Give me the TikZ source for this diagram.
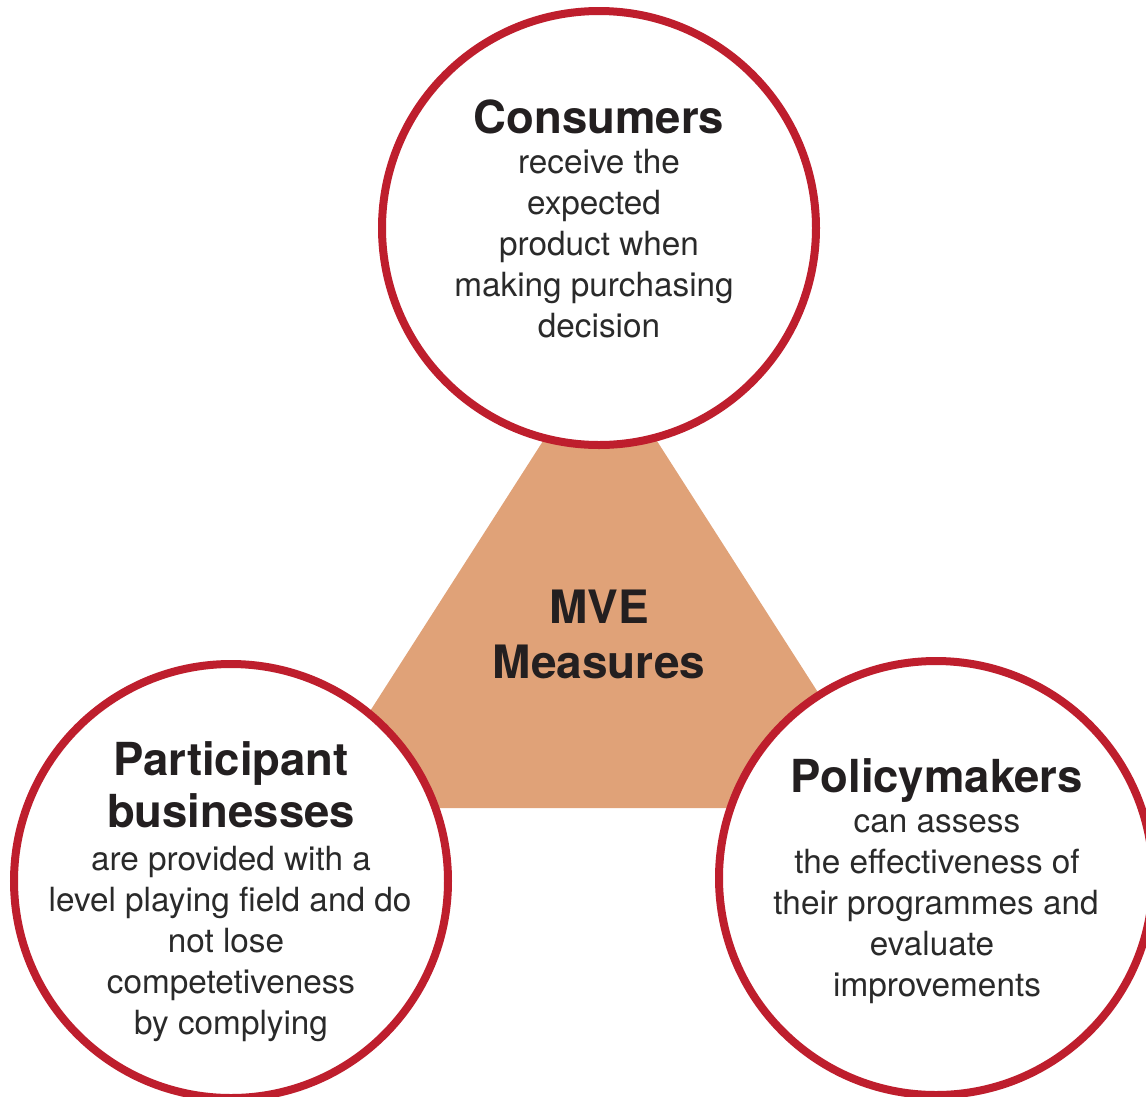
\documentclass[tikz,border=0pt]{standalone}
\usepackage{fontspec}
\setmainfont{TeX Gyre Heros}
\definecolor{ringred}{HTML}{BE1E2D}
\definecolor{tri}{HTML}{E0A278}
\definecolor{ink}{HTML}{231F20}
\definecolor{ink2}{HTML}{2A2A2A}
\tikzset{
  ring/.style={circle, draw=ringred, line width=8pt, fill=white, minimum size=434pt, inner sep=0pt},
  ttl/.style={font=\bfseries\fontsize{45.5}{50}\selectfont, text=ink, anchor=base, inner sep=0pt},
  bdy/.style={font=\fontsize{33.3}{41}\selectfont, text=ink2, anchor=base, inner sep=0pt},
  mve/.style={font=\bfseries\fontsize{46}{53}\selectfont, text=ink, anchor=base, inner sep=0pt},
}
\begin{document}
\begin{tikzpicture}[x=1pt,y=-1pt]
\useasboundingbox (0,0) rectangle (1146,1096);
\clip (0,0) rectangle (1146,1096);
% triangle
\coordinate (apex) at (600,352);
\coordinate (bl) at (308,808);
\coordinate (br) at (892,808);
\fill[tri] (apex) -- (bl) -- (br) -- cycle;
\node[mve] (mve1) at (599,623) {MVE};
\node[mve] (mve2) at (599,678) {Measures};
% circles
\node[ring] (top) at (599,228) {};
\node[ring] (left) at (231,881) {};
\node[ring] (right) at (936,878) {};
% consumers
\node[ttl] (t1) at (599,133) {Consumers};
\node[bdy] (c1) at (599,173) {receive the};
\node[bdy] (c2) at (594,214) {expected};
\node[bdy] (c3) at (599,255) {product when};
\node[bdy] (c4) at (594,296) {making purchasing};
\node[bdy] (c5) at (599,337) {decision};
% participants
\node[ttl] (t2a) at (231,775) {Participant};
\node[ttl] (t2b) at (231,827) {businesses};
\node[bdy] (p1) at (231,870) {are provided with a};
\node[bdy] (p2) at (230,911) {level playing field and do};
\node[bdy] (p3) at (226,952) {not lose};
\node[bdy] (p4) at (231,993) {competetiveness};
\node[bdy] (p5) at (231,1034) {by complying};
% policymakers
\node[ttl] (t3) at (937,792) {Policymakers};
\node[bdy] (q1) at (937,832) {can assess};
\node[bdy] (q2) at (937,873) {the effectiveness of};
\node[bdy] (q3) at (936,914) {their programmes and};
\node[bdy] (q4) at (932,955) {evaluate};
\node[bdy] (q5) at (937,996) {improvements};
\end{tikzpicture}
\end{document}
